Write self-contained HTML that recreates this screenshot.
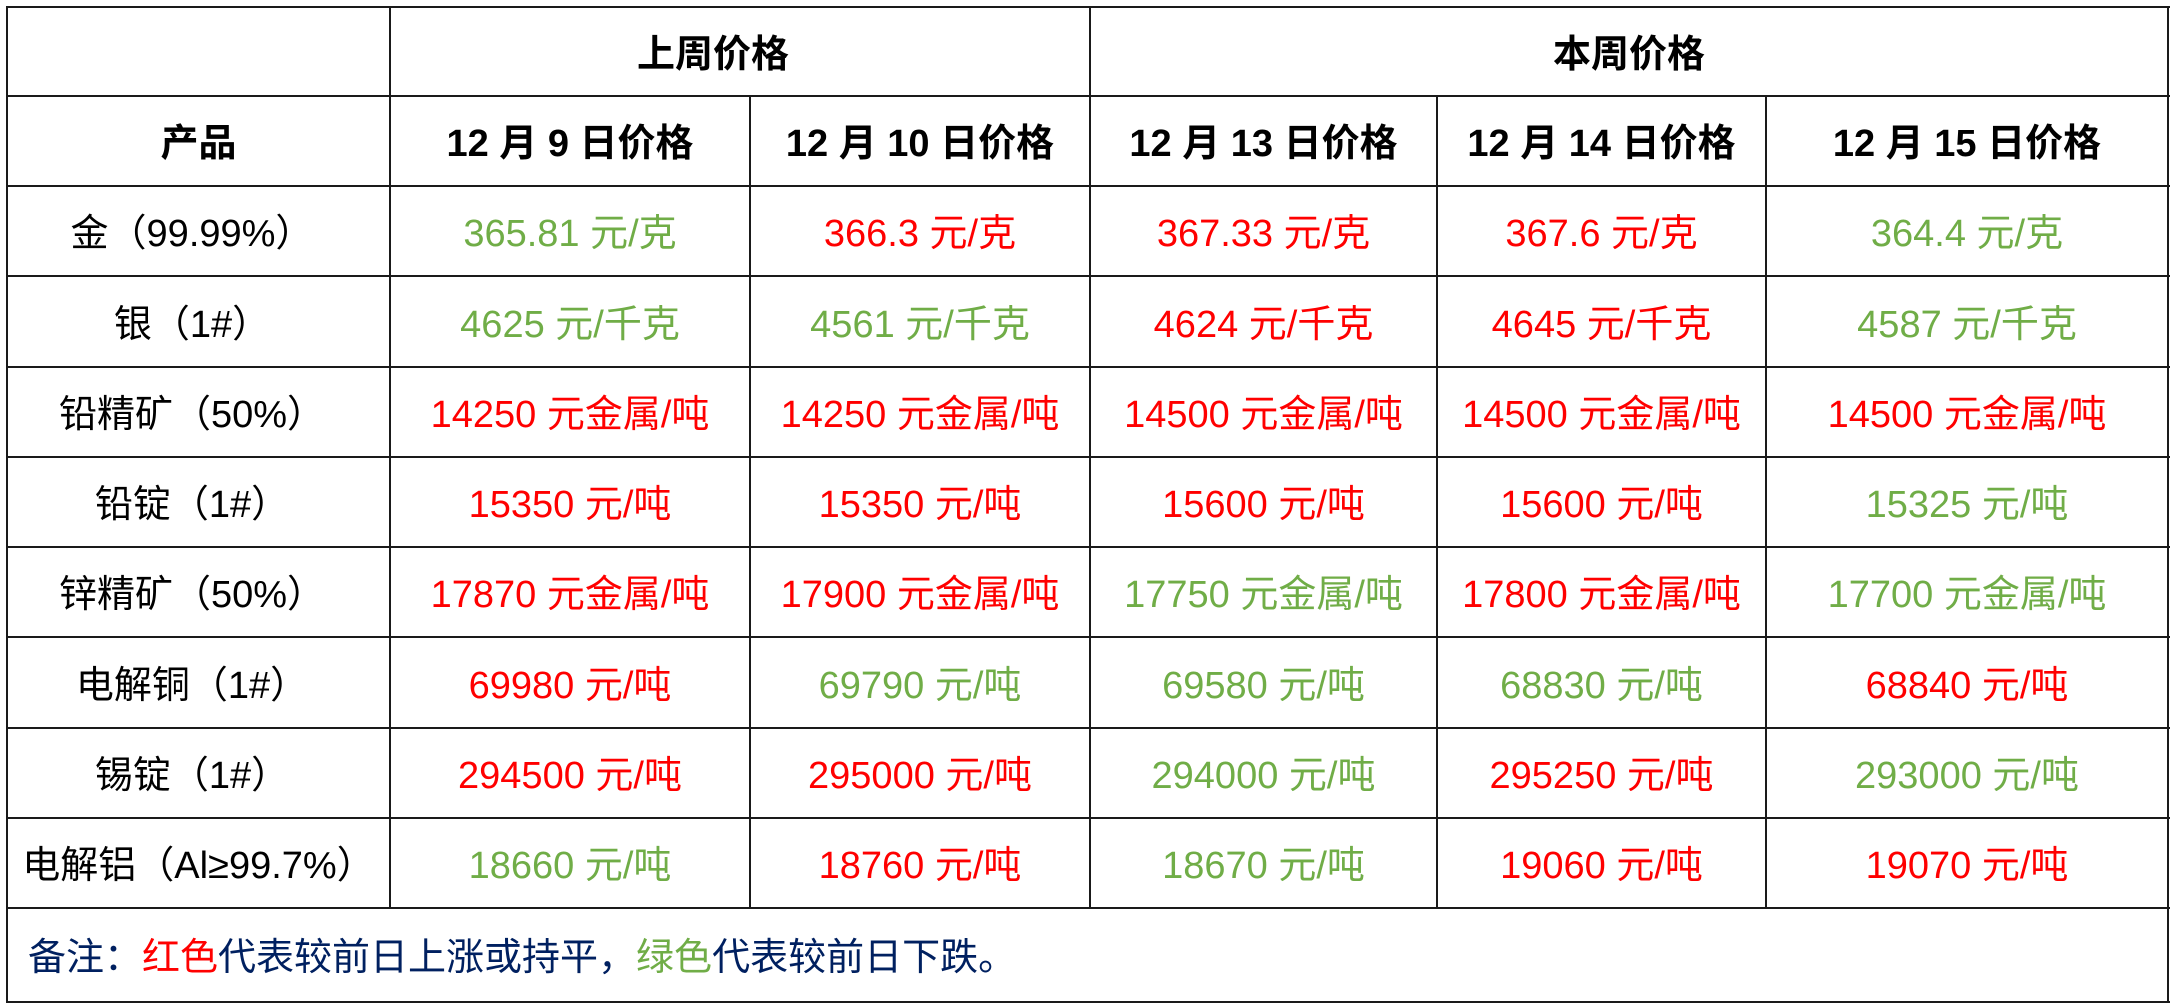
<!DOCTYPE html>
<html>
<head>
<meta charset="utf-8">
<style>
html,body{margin:0;padding:0;background:#fff;}
body{width:2175px;height:1005px;position:relative;overflow:hidden;font-family:"Liberation Sans","Noto Sans CJK SC",sans-serif;}
.h{position:absolute;height:2px;background:#1a1a1a;}
.v{position:absolute;width:2px;background:#1a1a1a;}
.c{position:absolute;display:flex;align-items:center;justify-content:center;font-size:38px;line-height:1;white-space:nowrap;transform:translateY(3px);}
.b{font-weight:bold;color:#000;}
.r{color:#ff0000;}
.g{color:#70ad47;}
.k{color:#000;}
</style>
</head>
<body>
<!-- horizontal lines -->
<div class="h" style="left:6px;width:2164px;top:6px"></div>
<div class="h" style="left:6px;width:2164px;top:95px"></div>
<div class="h" style="left:6px;width:2164px;top:185px"></div>
<div class="h" style="left:6px;width:2164px;top:275px"></div>
<div class="h" style="left:6px;width:2164px;top:366px"></div>
<div class="h" style="left:6px;width:2164px;top:456px"></div>
<div class="h" style="left:6px;width:2164px;top:546px"></div>
<div class="h" style="left:6px;width:2164px;top:636px"></div>
<div class="h" style="left:6px;width:2164px;top:727px"></div>
<div class="h" style="left:6px;width:2164px;top:817px"></div>
<div class="h" style="left:6px;width:2164px;top:907px"></div>
<div class="h" style="left:6px;width:2164px;top:1001px"></div>
<!-- vertical lines -->
<div class="v" style="left:6px;top:6px;height:997px"></div>
<div class="v" style="left:2167px;top:6px;height:997px"></div>
<div class="v" style="left:389px;top:6px;height:903px"></div>
<div class="v" style="left:749px;top:95px;height:814px"></div>
<div class="v" style="left:1089px;top:6px;height:903px"></div>
<div class="v" style="left:1436px;top:95px;height:814px"></div>
<div class="v" style="left:1765px;top:95px;height:814px"></div>

<!-- header row 1 -->
<div class="c b" style="left:390px;width:646px;top:7px;height:89px">上周价格</div>
<div class="c b" style="left:1090px;width:1078px;top:7px;height:89px">本周价格</div>
<!-- header row 2 -->
<div class="c b" style="left:7px;width:383px;top:96px;height:90px">产品</div>
<div class="c b" style="left:390px;width:360px;top:96px;height:90px">12 月 9 日价格</div>
<div class="c b" style="left:750px;width:340px;top:96px;height:90px">12 月 10 日价格</div>
<div class="c b" style="left:1090px;width:347px;top:96px;height:90px">12 月 13 日价格</div>
<div class="c b" style="left:1437px;width:329px;top:96px;height:90px">12 月 14 日价格</div>
<div class="c b" style="left:1766px;width:402px;top:96px;height:90px">12 月 15 日价格</div>

<!-- row 金 -->
<div class="c k" style="left:7px;width:370px;top:186px;height:90px">金（99.99%）</div>
<div class="c g" style="left:390px;width:360px;top:186px;height:90px">365.81 元/克</div>
<div class="c r" style="left:750px;width:340px;top:186px;height:90px">366.3 元/克</div>
<div class="c r" style="left:1090px;width:347px;top:186px;height:90px">367.33 元/克</div>
<div class="c r" style="left:1437px;width:329px;top:186px;height:90px">367.6 元/克</div>
<div class="c g" style="left:1766px;width:402px;top:186px;height:90px">364.4 元/克</div>

<!-- row 银 -->
<div class="c k" style="left:7px;width:370px;top:276px;height:91px">银（1#）</div>
<div class="c g" style="left:390px;width:360px;top:276px;height:91px">4625 元/千克</div>
<div class="c g" style="left:750px;width:340px;top:276px;height:91px">4561 元/千克</div>
<div class="c r" style="left:1090px;width:347px;top:276px;height:91px">4624 元/千克</div>
<div class="c r" style="left:1437px;width:329px;top:276px;height:91px">4645 元/千克</div>
<div class="c g" style="left:1766px;width:402px;top:276px;height:91px">4587 元/千克</div>

<!-- row 铅精矿 -->
<div class="c k" style="left:7px;width:370px;top:367px;height:90px">铅精矿（50%）</div>
<div class="c r" style="left:390px;width:360px;top:367px;height:90px">14250 元金属/吨</div>
<div class="c r" style="left:750px;width:340px;top:367px;height:90px">14250 元金属/吨</div>
<div class="c r" style="left:1090px;width:347px;top:367px;height:90px">14500 元金属/吨</div>
<div class="c r" style="left:1437px;width:329px;top:367px;height:90px">14500 元金属/吨</div>
<div class="c r" style="left:1766px;width:402px;top:367px;height:90px">14500 元金属/吨</div>

<!-- row 铅锭 -->
<div class="c k" style="left:7px;width:370px;top:457px;height:90px">铅锭（1#）</div>
<div class="c r" style="left:390px;width:360px;top:457px;height:90px">15350 元/吨</div>
<div class="c r" style="left:750px;width:340px;top:457px;height:90px">15350 元/吨</div>
<div class="c r" style="left:1090px;width:347px;top:457px;height:90px">15600 元/吨</div>
<div class="c r" style="left:1437px;width:329px;top:457px;height:90px">15600 元/吨</div>
<div class="c g" style="left:1766px;width:402px;top:457px;height:90px">15325 元/吨</div>

<!-- row 锌精矿 -->
<div class="c k" style="left:7px;width:370px;top:547px;height:90px">锌精矿（50%）</div>
<div class="c r" style="left:390px;width:360px;top:547px;height:90px">17870 元金属/吨</div>
<div class="c r" style="left:750px;width:340px;top:547px;height:90px">17900 元金属/吨</div>
<div class="c g" style="left:1090px;width:347px;top:547px;height:90px">17750 元金属/吨</div>
<div class="c r" style="left:1437px;width:329px;top:547px;height:90px">17800 元金属/吨</div>
<div class="c g" style="left:1766px;width:402px;top:547px;height:90px">17700 元金属/吨</div>

<!-- row 电解铜 -->
<div class="c k" style="left:7px;width:370px;top:637px;height:91px">电解铜（1#）</div>
<div class="c r" style="left:390px;width:360px;top:637px;height:91px">69980 元/吨</div>
<div class="c g" style="left:750px;width:340px;top:637px;height:91px">69790 元/吨</div>
<div class="c g" style="left:1090px;width:347px;top:637px;height:91px">69580 元/吨</div>
<div class="c g" style="left:1437px;width:329px;top:637px;height:91px">68830 元/吨</div>
<div class="c r" style="left:1766px;width:402px;top:637px;height:91px">68840 元/吨</div>

<!-- row 锡锭 -->
<div class="c k" style="left:7px;width:370px;top:728px;height:90px">锡锭（1#）</div>
<div class="c r" style="left:390px;width:360px;top:728px;height:90px">294500 元/吨</div>
<div class="c r" style="left:750px;width:340px;top:728px;height:90px">295000 元/吨</div>
<div class="c g" style="left:1090px;width:347px;top:728px;height:90px">294000 元/吨</div>
<div class="c r" style="left:1437px;width:329px;top:728px;height:90px">295250 元/吨</div>
<div class="c g" style="left:1766px;width:402px;top:728px;height:90px">293000 元/吨</div>

<!-- row 电解铝 -->
<div class="c k" style="left:7px;width:383px;top:818px;height:90px">电解铝（Al≥99.7%）</div>
<div class="c g" style="left:390px;width:360px;top:818px;height:90px">18660 元/吨</div>
<div class="c r" style="left:750px;width:340px;top:818px;height:90px">18760 元/吨</div>
<div class="c g" style="left:1090px;width:347px;top:818px;height:90px">18670 元/吨</div>
<div class="c r" style="left:1437px;width:329px;top:818px;height:90px">19060 元/吨</div>
<div class="c r" style="left:1766px;width:402px;top:818px;height:90px">19070 元/吨</div>

<!-- note -->
<div class="c" style="left:28px;top:909px;height:92px;justify-content:flex-start;color:#002060;">备注：<span style="color:#ff0000">红色</span>代表较前日上涨或持平，<span style="color:#70ad47">绿色</span>代表较前日下跌。</div>
</body>
</html>
